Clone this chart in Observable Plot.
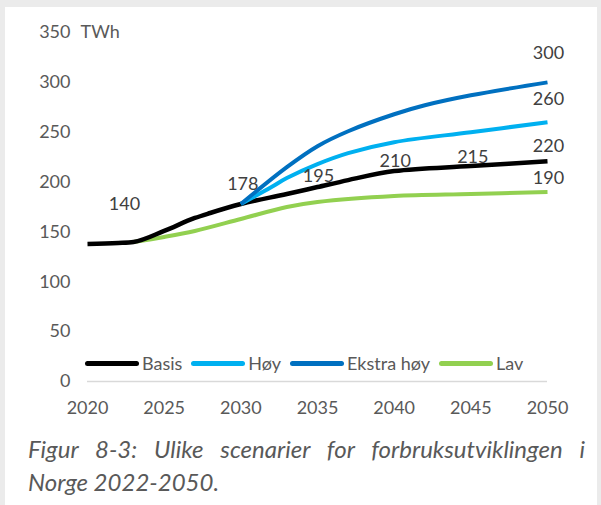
<!DOCTYPE html>
<html>
<head>
<meta charset="utf-8">
<script src="https://cdn.jsdelivr.net/npm/d3@7"></script>
<script src="https://cdn.jsdelivr.net/npm/@observablehq/plot@0.6"></script>
<style>
  html, body { margin: 0; padding: 0; }
  body { width: 601px; height: 505px; background: #ebebeb; position: relative; overflow: hidden; font-family: Lato, "Open Sans", sans-serif; }
  #panel { position: absolute; left: 5px; top: 7px; width: 592px; height: 498px; background: #ffffff; }
  #chart { position: absolute; left: 0; top: 0; }
  #legend { position: absolute; left: 85px; top: 351px; display: flex; align-items: center; font-size: 18px; color: #595959; line-height: 24px; }
  #legend .item { display: flex; align-items: center; margin-right: 9px; }
  #legend .sw { width: 54px; height: 5px; border-radius: 3px; margin-right: 3px; }
  #caption { position: absolute; left: 28px; top: 432px; width: 557px; font-family: Lato, sans-serif; font-style: italic; font-size: 24px; line-height: 33px; color: #595959; }
  #caption .l1 { text-align: justify; text-align-last: justify; white-space: nowrap; }
</style>
</head>
<body>
<div id="panel"></div>
<div id="chart"></div>
<div id="legend"></div>
<div id="caption">
  <div class="l1">Figur 8-3: Ulike scenarier for forbruksutviklingen i</div>
  <div>Norge 2022-2050.</div>
</div>
<script>
// ---- data ----
const seriesNames = ["Basis", "Høy", "Ekstra høy", "Lav"];
const seriesColors = ["#000000", "#00b0f0", "#0070c0", "#92d050"];

const basisYears  = [2020, 2022, 2023, 2025, 2027, 2028, 2030, 2033, 2035, 2037, 2040, 2045, 2050];
const basisValues = [138, 139, 140, 151, 164, 169, 178, 188, 195, 202, 211, 216, 221];

const hoyYears  = [2030, 2032, 2033, 2035, 2037, 2040, 2045, 2050];
const hoyValues = [178, 195, 204, 218, 229, 240, 250, 260];

const ekstraYears  = [2030, 2033, 2035, 2037, 2040, 2042, 2045, 2050];
const ekstraValues = [178, 215, 236, 251, 268, 277, 287, 300];

const lavYears  = [2023, 2025, 2027, 2030, 2033, 2035, 2040, 2045, 2050];
const lavValues = [140, 145, 151, 163, 175, 180, 186, 188, 190];

const labelYears  = [2023, 2030, 2035, 2040, 2045, 2050, 2050, 2050, 2050];
const labelValues = [140, 178, 195, 210, 215, 220, 190, 260, 300];

const xTicks = [2020, 2025, 2030, 2035, 2040, 2045, 2050];
const yTicks = [0, 50, 100, 150, 200, 250, 300, 350];
const unitLabel = "TWh";

// ---- build ----
const toRows = (ys, vs) => ys.map((y, i) => ({year: y, value: vs[i]}));
const series = [
  toRows(basisYears, basisValues),
  toRows(hoyYears, hoyValues),
  toRows(ekstraYears, ekstraValues),
  toRows(lavYears, lavValues)
];
const labels = labelYears.map((y, i) => ({year: y, value: labelValues[i]}));
// per-label offsets (style)
const labelDx = [-9, 2, 1, 1, 2, 1, 1, 1, 1];
const labelDy = [-38, -20, -11, -11, -10, -16, -14, -23, -29];
const curves = ["monotone-x", "catmull-rom", "catmull-rom", "catmull-rom"];

const drawOrder = [3, 0, 1, 2];
const lineMarks = drawOrder.map(k => Plot.line(series[k], {
  x: "year", y: "value", stroke: seriesColors[k],
  strokeWidth: k === 0 ? 4.5 : 4, curve: curves[k], strokeLinecap: "butt"
}));

const labelMarks = labels.map((d, i) => Plot.text([d], {
  x: "year", y: "value", text: dd => String(dd.value),
  dx: labelDx[i], dy: labelDy[i], fill: "#404040", fontSize: 18
}));

const chart = Plot.plot({
  width: 601,
  height: 425,
  marginLeft: 87,
  marginRight: 54,
  marginTop: 32,
  marginBottom: 44,
  style: {fontFamily: "Lato, 'Open Sans', sans-serif", fontSize: "18px", color: "#595959", background: "transparent", overflow: "visible"},
  x: {domain: [xTicks[0], xTicks[xTicks.length - 1]]},
  y: {domain: [yTicks[0], yTicks[yTicks.length - 1]]},
  marks: [
    Plot.axisX({ticks: xTicks, tickSize: 0, tickPadding: 20, tickFormat: d => String(d), label: null, fill: "#595959"}),
    Plot.axisY({ticks: yTicks, tickSize: 0, tickPadding: 17, label: null, fill: "#595959"}),
    Plot.ruleY([0], {stroke: "#d9d9d9", strokeWidth: 1.5}),
    ...lineMarks,
    ...labelMarks,
    Plot.text([unitLabel], {x: () => xTicks[0], y: () => yTicks[yTicks.length - 1], text: d => d, textAnchor: "start", dx: -7, fill: "#595959", fontSize: 18})
  ]
});
document.getElementById("chart").appendChild(chart);

// legend
const legend = document.getElementById("legend");
seriesNames.forEach((name, i) => {
  const item = document.createElement("div");
  item.className = "item";
  const sw = document.createElement("span");
  sw.className = "sw";
  sw.style.background = seriesColors[i];
  const t = document.createElement("span");
  t.textContent = name;
  item.appendChild(sw);
  item.appendChild(t);
  legend.appendChild(item);
});
</script>
</body>
</html>
